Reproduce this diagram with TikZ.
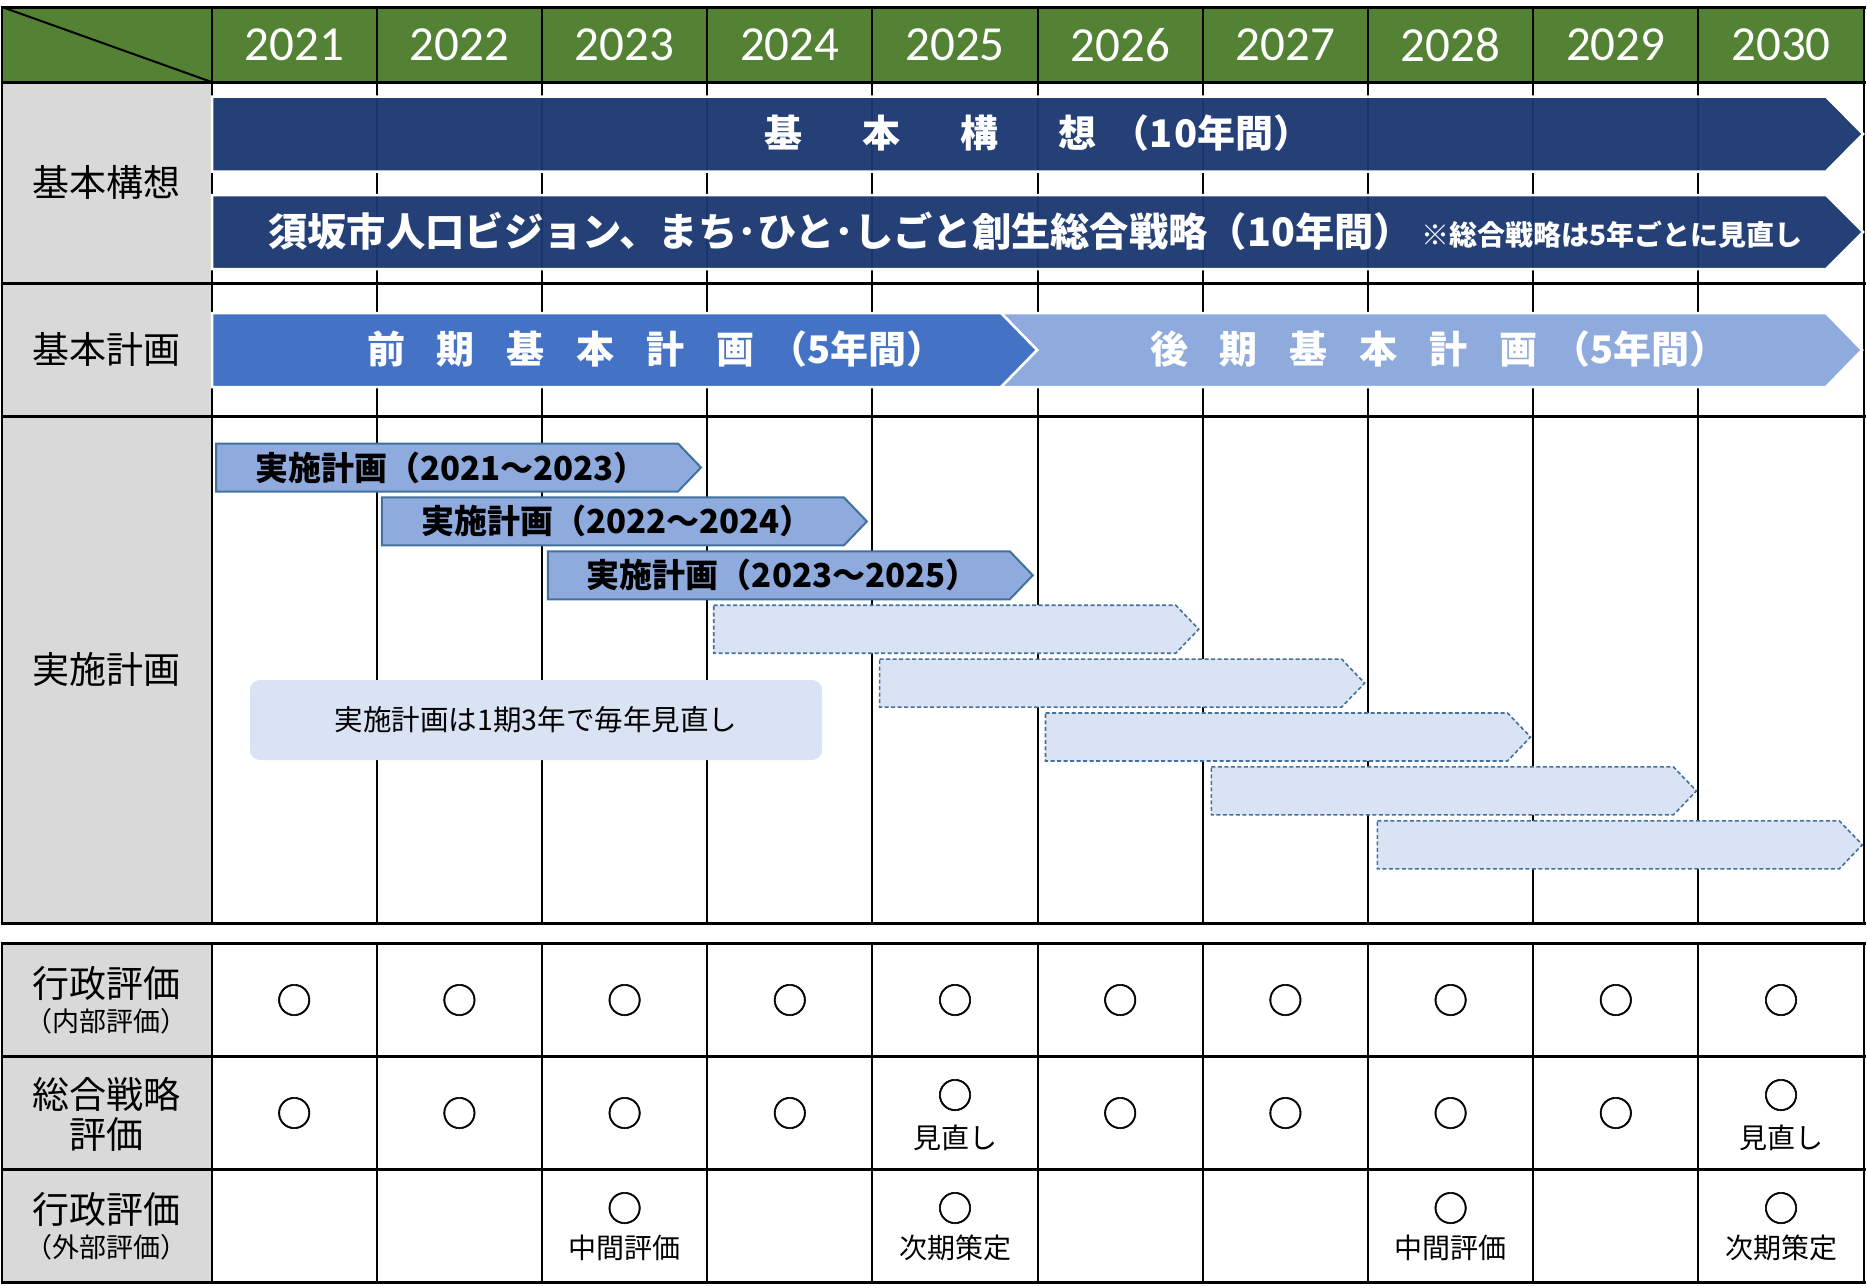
\documentclass[tikz,border=0pt]{standalone}
\usepackage{fontspec}
\setmainfont{Noto Sans CJK JP}
\newfontfamily\yearfont{Carlito}
\newfontfamily\markfont[FakeBold=1.6]{Noto Sans CJK JP}
\usepackage{tikz}

\definecolor{headgreen}{RGB}{84,130,53}
\definecolor{labelgray}{RGB}{217,217,217}
\definecolor{navy}{RGB}{28,56,112}
\definecolor{planblue}{RGB}{68,114,196}
\definecolor{lightblue}{RGB}{143,170,220}
\definecolor{edgeblue}{RGB}{65,113,156}
\definecolor{paleblue}{RGB}{218,227,243}

\newcommand{\fsz}[1]{\fontsize{#1}{#1}\selectfont}
\newcommand{\chargap}{\hspace{0.84em}}
\newcommand{\widegap}{\hspace{1.58em}}

\tikzset{
	gridline/.style={line width=2pt},
	rowline/.style={line width=3pt},
	yeartext/.style={text=white, font=\yearfont\fsz{49}},
	rowlabel/.style={align=center, font=\fsz{37}, inner sep=0pt},
	sublabel/.style={font=\fsz{27}, inner sep=0pt},
	bigbar/.style={fill=navy, fill opacity=0.96, draw=white, line width=2.5pt},
	termbar/.style={draw=white, line width=2.5pt},
	bartext/.style={text=white, font=\bfseries\fsz{38}, inner sep=0pt},
	planarrow/.style={fill=lightblue, draw=edgeblue, line width=2pt},
	nextarrow/.style={fill=paleblue, draw=edgeblue, line width=1.6pt, dash pattern=on 4pt off 2.5pt},
	plantext/.style={font=\bfseries\fsz{33}, inner sep=0pt},
	notebox/.style={fill=paleblue, rounded corners=10pt, minimum width=572pt, minimum height=80pt, font=\fsz{28.5}},
	circmark/.style={font=\markfont\fsz{35}, inner sep=0pt},
	remark/.style={font=\fsz{28}, inner sep=0pt}
}

\begin{document}
\begin{tikzpicture}[x=1pt, y=-1pt]
	\useasboundingbox (0,0) rectangle (1867,1285);
	\fill[headgreen] (2,7) rectangle (1864,82);
	\fill[labelgray] (2,82) rectangle (211.6,923);
	\fill[labelgray] (2,943) rectangle (211.6,1282);
	\foreach \i in {0,...,10} {
		\draw[gridline] ({211.6+165.2*\i},7) -- ({211.6+165.2*\i},923);
		\draw[gridline] ({211.6+165.2*\i},943) -- ({211.6+165.2*\i},1282);
	}
	\draw[gridline] (2,7) -- (2,923);
	\draw[gridline] (2,943) -- (2,1282);
	\foreach \y in {7,82,283,416,923,943,1056,1169,1282}
		\draw[rowline] (0.5,\y) -- (1865.5,\y);
	\draw[gridline] (2,7) -- (211.6,82);

	\foreach \yr [count=\i from 0] in {2021,...,2030}
		\node[yeartext] (Y\yr)at({294.2+165.2*\i}, 45) {\yr};

	\node[rowlabel] (KOSO)at(106, 182) {基本構想};
	\node[rowlabel] (KEIKAKU)at(106, 349) {基本計画};
	\node[rowlabel] (JISSHI)at(106, 669) {実施計画};
	\node[rowlabel] (NAIBU)at(106, 983) {行政評価};
	\node[sublabel] (NAIBUS)at(106, 1021) {（内部評価）};
	\node[rowlabel] (SENRYAKU)at(106, 1114) {総合戦略\\[3pt]評価};
	\node[rowlabel] (GAIBU)at(106, 1209) {行政評価};
	\node[sublabel] (GAIBUS)at(106, 1247) {（外部評価）};

	\draw[bigbar] (212,96.5) -- (1826,96.5) -- (1863,134) -- (1826,171.5) -- (212,171.5) -- cycle;
	\draw[bigbar] (212,195) -- (1826,195) -- (1863,232) -- (1826,269) -- (212,269) -- cycle;
	\draw[termbar, fill=lightblue] (1001,313) -- (1826,313) -- (1862,350) -- (1826,387) -- (1001,387) -- (1037,350) -- cycle;
	\draw[termbar, fill=planblue] (212,313) -- (1001,313) -- (1037,350) -- (1001,387) -- (212,387) -- cycle;

	\node[bartext] (VISION)at(1038, 133) {基\widegap 本\widegap 構\widegap 想\hspace{0.4em}（1\hspace{0.05em}0年間）};
	\node[bartext, anchor=west, font=\bfseries\fsz{39.3}] (SOGO)at(268, 231) {須坂市人口ビジョン、まち･ひと･しごと創生総合戦略（10年間）};
	\node[bartext, anchor=west, font=\bfseries\fsz{28}] (SOGOS)at(1421, 235) {※総合戦略は5年ごとに見直し};
	\node[bartext] (ZENKI)at(656, 349) {前\chargap 期\chargap 基\chargap 本\chargap 計\chargap 画\hspace{0.4em}（5年間）};
	\node[bartext] (KOKI)at(1439, 349) {後\chargap 期\chargap 基\chargap 本\chargap 計\chargap 画\hspace{0.4em}（5年間）};

	\foreach \i in {0,1,2} {
		\pgfmathsetmacro{\lx}{216+165.9*\i}
		\pgfmathsetmacro{\ty}{443.5+53.9*\i}
		\pgfmathtruncatemacro{\ya}{2021+\i}
		\pgfmathtruncatemacro{\yb}{2023+\i}
		\draw[planarrow] (\lx,\ty) -- ++(462,0) -- ++(23,24) -- ++(-23,24) -- ++(-462,0) -- cycle;
		\node[plantext] (P\i)at({\lx+235}, {\ty+24}) {実施計画（\ya～\yb）};
	}
	\foreach \i in {3,...,7} {
		\pgfmathsetmacro{\lx}{216+165.9*\i}
		\pgfmathsetmacro{\ty}{443.5+53.9*\i}
		\draw[nextarrow] (\lx,\ty) -- ++(462,0) -- ++(23,24) -- ++(-23,24) -- ++(-462,0) -- cycle;
	}
	\node[notebox] (NOTE)at(536, 720) {実施計画は1期3年で毎年見直し};

	\foreach \i in {0,...,9}
		\node[circmark] (A\i)at({294.2+165.2*\i}, 1000) {○};
	\foreach \i in {0,1,2,3,5,6,7,8}
		\node[circmark] (B\i)at({294.2+165.2*\i}, 1113) {○};
	\foreach \i in {4,9} {
		\node[circmark] (B\i)at({294.2+165.2*\i}, 1095) {○};
		\node[remark] (BR\i)at({294.2+165.2*\i}, 1138) {見直し};
	}
	\foreach \i/\txt in {2/中間評価, 4/次期策定, 7/中間評価, 9/次期策定} {
		\node[circmark] (C\i)at({294.2+165.2*\i}, 1208) {○};
		\node[remark] (CR\i)at({294.2+165.2*\i}, 1248) {\txt};
	}
\end{tikzpicture}
\end{document}
